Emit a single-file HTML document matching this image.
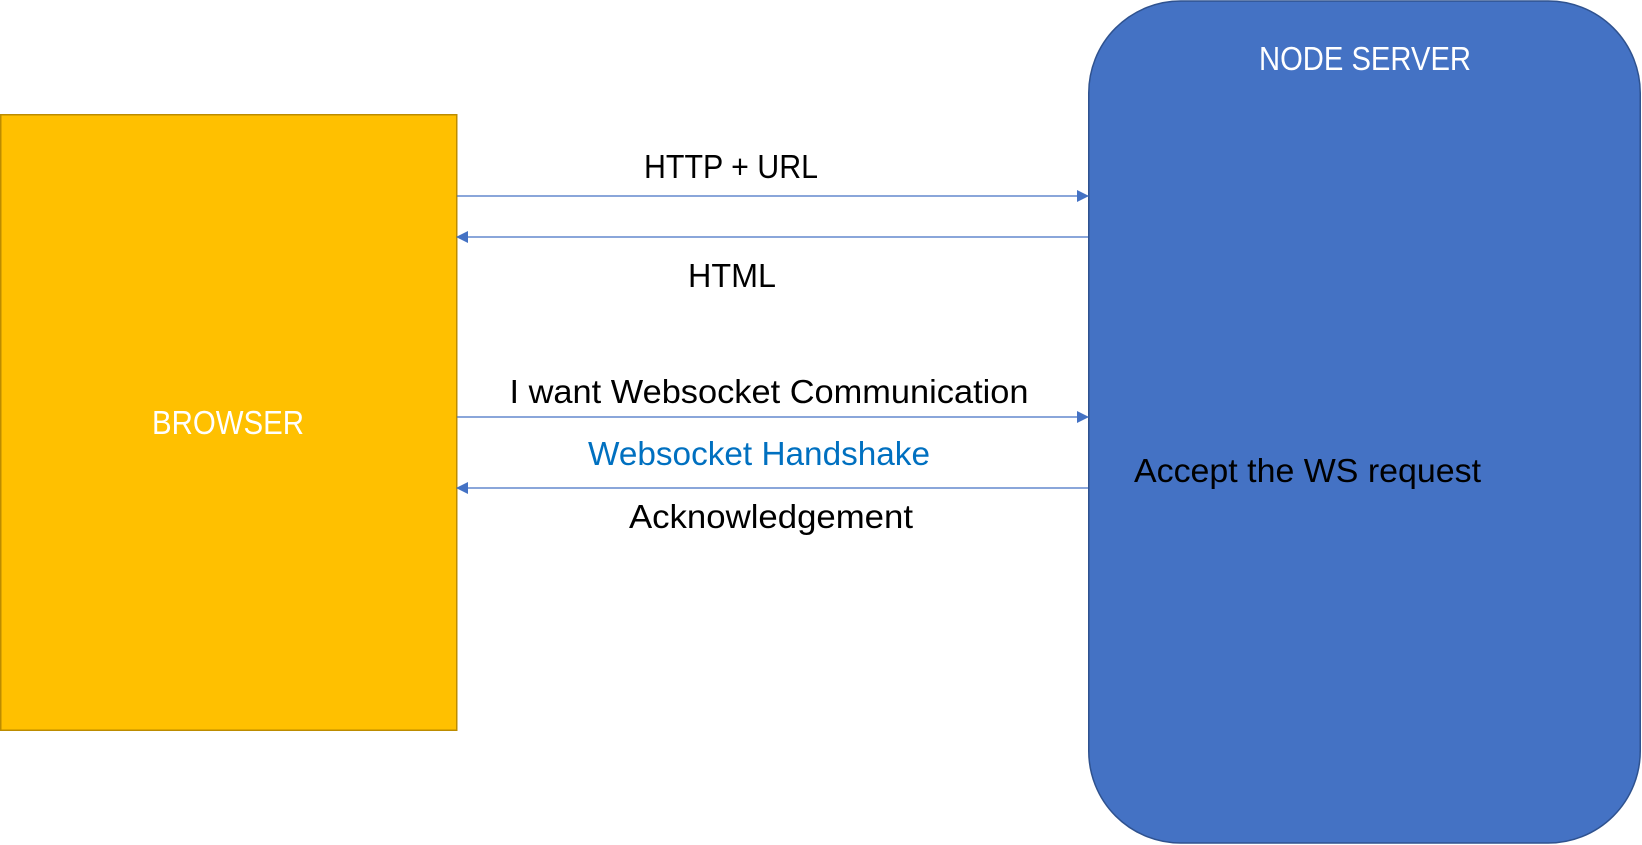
<!DOCTYPE html>
<html><head><meta charset="utf-8"><style>html,body{margin:0;padding:0;background:#fff}svg{display:block}</style></head>
<body>
<svg width="1642" height="845" viewBox="0 0 1642 845" xmlns="http://www.w3.org/2000/svg" font-family="Liberation Sans, sans-serif" font-size="33">
<defs>
<marker id="a" markerWidth="12" markerHeight="12" refX="11" refY="6" orient="auto" markerUnits="userSpaceOnUse"><path d="M0,0 L12,6 L0,12 z" fill="#4472c4"/></marker>
</defs>
<rect x="0.75" y="114.75" width="456" height="615.5" fill="#ffc000" stroke="#bc8c00" stroke-width="1.5"/>
<rect x="1088.75" y="1" width="551.5" height="842" rx="92" ry="92" fill="#4472c4" stroke="#2f528f" stroke-width="1.5"/>
<g stroke="#4472c4" stroke-width="1.3">
<line x1="457" y1="196" x2="1088" y2="196" marker-end="url(#a)"/>
<line x1="1088" y1="237" x2="457" y2="237" marker-end="url(#a)"/>
<line x1="457" y1="417" x2="1088" y2="417" marker-end="url(#a)"/>
<line x1="1088" y1="488" x2="457" y2="488" marker-end="url(#a)"/>
</g>
<text x="1365" y="70" fill="#fff" text-anchor="middle" textLength="212" lengthAdjust="spacingAndGlyphs">NODE SERVER</text>
<text x="228" y="434" fill="#fff" text-anchor="middle" textLength="152" lengthAdjust="spacingAndGlyphs">BROWSER</text>
<text x="731" y="178" text-anchor="middle" textLength="174" lengthAdjust="spacingAndGlyphs">HTTP + URL</text>
<text x="732" y="287" text-anchor="middle" textLength="88" lengthAdjust="spacingAndGlyphs">HTML</text>
<text x="769" y="403" text-anchor="middle" textLength="519" lengthAdjust="spacingAndGlyphs">I want Websocket Communication</text>
<text x="759" y="465" fill="#0070c0" text-anchor="middle" textLength="342" lengthAdjust="spacingAndGlyphs">Websocket Handshake</text>
<text x="771" y="528" text-anchor="middle" textLength="284" lengthAdjust="spacingAndGlyphs">Acknowledgement</text>
<text x="1134" y="482" textLength="347" lengthAdjust="spacingAndGlyphs">Accept the WS request</text>
</svg>
</body></html>
